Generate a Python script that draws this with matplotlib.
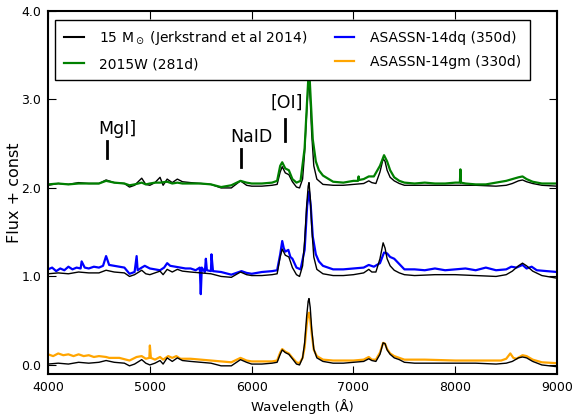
import numpy as np
import matplotlib.pyplot as plt

# vertical offsets ("Flux + const")
off_bottom = 0.0
off_middle = 1.0
off_top = 2.0

# bottom panel: 15 Msun model vs ASASSN-14gm
wl_mod_b = [4000, 4100, 4200, 4300, 4400, 4500, 4570, 4650, 4750, 4800, 4850, 4920, 4960,
            5000, 5050, 5100, 5130, 5170, 5220, 5270, 5320, 5400, 5500, 5600, 5700, 5800,
            5890, 5950, 6000, 6100, 6200, 6250, 6280, 6300, 6330, 6365, 6400, 6440, 6470,
            6500, 6520, 6540, 6555, 6563, 6575, 6590, 6610, 6640, 6700, 6800, 6900, 7000,
            7100, 7150, 7180, 7220, 7260, 7291, 7310, 7330, 7360, 7400, 7450, 7500, 7600,
            7800, 8000, 8200, 8400, 8500, 8560, 8620, 8660, 8700, 8760, 8850, 9000]
fl_mod_b = [0.01, 0.02, 0.01, 0.03, 0.02, 0.03, 0.05, 0.03, 0.02, -0.01, 0.01, 0.06, 0.02,
            0.00, 0.02, 0.05, 0.01, 0.08, 0.04, 0.08, 0.05, 0.04, 0.03, 0.02, -0.01, -0.01,
            0.06, 0.03, 0.01, 0.01, 0.02, 0.03, 0.12, 0.17, 0.14, 0.12, 0.07, 0.01, 0.00,
            0.08, 0.25, 0.55, 0.72, 0.75, 0.65, 0.40, 0.18, 0.08, 0.04, 0.02, 0.02, 0.03,
            0.04, 0.07, 0.05, 0.04, 0.12, 0.25, 0.24, 0.17, 0.12, 0.08, 0.06, 0.03, 0.02,
            0.02, 0.02, 0.02, 0.01, 0.02, 0.04, 0.08, 0.09, 0.08, 0.04, 0.00, -0.02]

wl_14gm = [4000, 4050, 4100, 4150, 4200, 4250, 4300, 4350, 4400, 4450, 4500, 4570, 4600,
           4700, 4800, 4870, 4920, 4960, 4995, 5000, 5010, 5050, 5100, 5130, 5180, 5220,
           5260, 5300, 5400, 5500, 5600, 5700, 5800, 5890, 5950, 6000, 6200, 6250, 6280,
           6300, 6330, 6365, 6400, 6440, 6470, 6500, 6520, 6540, 6555, 6563, 6575, 6590,
           6610, 6640, 6700, 6800, 7000, 7100, 7150, 7180, 7220, 7260, 7291, 7310, 7330,
           7360, 7400, 7450, 7500, 7700, 8000, 8300, 8450, 8500, 8540, 8570, 8600, 8660,
           8700, 8760, 8850, 9000]
fl_14gm = [0.12, 0.10, 0.13, 0.11, 0.12, 0.10, 0.12, 0.10, 0.11, 0.09, 0.10, 0.09, 0.08,
           0.08, 0.05, 0.09, 0.10, 0.07, 0.08, 0.22, 0.08, 0.06, 0.09, 0.06, 0.10, 0.08,
           0.10, 0.07, 0.07, 0.06, 0.05, 0.04, 0.03, 0.08, 0.05, 0.04, 0.04, 0.05, 0.14,
           0.18, 0.15, 0.13, 0.08, 0.03, 0.02, 0.08, 0.20, 0.45, 0.58, 0.59, 0.52, 0.35,
           0.17, 0.10, 0.06, 0.05, 0.05, 0.06, 0.09, 0.06, 0.06, 0.14, 0.25, 0.24, 0.18,
           0.13, 0.10, 0.08, 0.06, 0.06, 0.05, 0.05, 0.05, 0.07, 0.13, 0.08, 0.07, 0.11,
           0.10, 0.06, 0.03, 0.02]

# middle panel: 15 Msun model vs ASASSN-14dq
wl_mod_m = [4000, 4100, 4200, 4300, 4400, 4500, 4570, 4650, 4750, 4800, 4850, 4920, 4960,
            5000, 5050, 5100, 5130, 5170, 5220, 5270, 5320, 5400, 5500, 5600, 5700, 5800,
            5890, 5950, 6000, 6100, 6200, 6250, 6280, 6300, 6330, 6365, 6400, 6440, 6470,
            6500, 6520, 6540, 6555, 6563, 6575, 6590, 6610, 6640, 6700, 6800, 6900, 7000,
            7100, 7150, 7180, 7220, 7260, 7291, 7310, 7330, 7360, 7400, 7450, 7500, 7600,
            7800, 8000, 8200, 8400, 8500, 8560, 8620, 8660, 8700, 8760, 8850, 9000]
fl_mod_m = [0.03, 0.04, 0.03, 0.05, 0.04, 0.04, 0.07, 0.05, 0.04, 0.00, 0.02, 0.07, 0.03,
            0.02, 0.04, 0.06, 0.02, 0.08, 0.05, 0.08, 0.06, 0.05, 0.04, 0.03, 0.00, -0.01,
            0.05, 0.02, 0.01, 0.01, 0.02, 0.03, 0.22, 0.31, 0.24, 0.22, 0.10, 0.02, 0.00,
            0.12, 0.40, 0.80, 1.02, 1.06, 0.90, 0.55, 0.22, 0.08, 0.03, 0.01, 0.01, 0.02,
            0.04, 0.08, 0.05, 0.05, 0.20, 0.38, 0.32, 0.20, 0.12, 0.07, 0.04, 0.02, 0.01,
            0.02, 0.02, 0.01, 0.00, 0.02, 0.06, 0.12, 0.15, 0.12, 0.06, 0.01, -0.02]

wl_14dq = [4000, 4040, 4080, 4120, 4160, 4200, 4240, 4280, 4320, 4330, 4360, 4400, 4450,
           4500, 4540, 4570, 4600, 4650, 4700, 4750, 4800, 4850, 4870, 4880, 4920, 4950,
           5000, 5050, 5100, 5140, 5170, 5200, 5250, 5300, 5350, 5400, 5450, 5490, 5500,
           5510, 5540, 5550, 5560, 5600, 5605, 5620, 5700, 5800, 5900, 5950, 6000, 6100,
           6200, 6250, 6280, 6300, 6315, 6330, 6360, 6380, 6400, 6440, 6480, 6520, 6545,
           6563, 6580, 6600, 6630, 6660, 6700, 6750, 6800, 6900, 7000, 7100, 7150, 7200,
           7260, 7300, 7330, 7360, 7400, 7450, 7500, 7600, 7700, 7800, 7900, 8000, 8100,
           8200, 8300, 8400, 8500, 8550, 8600, 8660, 8700, 8750, 8800, 8900, 9000]
fl_14dq = [0.08, 0.10, 0.06, 0.09, 0.07, 0.11, 0.08, 0.10, 0.09, 0.17, 0.10, 0.09, 0.11,
           0.10, 0.12, 0.23, 0.13, 0.12, 0.11, 0.10, 0.03, 0.05, 0.23, 0.07, 0.10, 0.12,
           0.09, 0.08, 0.07, 0.10, 0.15, 0.12, 0.11, 0.10, 0.09, 0.09, 0.07, 0.10, -0.20,
           0.10, 0.05, 0.20, 0.07, 0.06, 0.25, 0.06, 0.05, 0.02, 0.06, 0.04, 0.03, 0.05,
           0.06, 0.07, 0.25, 0.40, 0.32, 0.28, 0.30, 0.22, 0.20, 0.10, 0.08, 0.30, 0.80,
           0.96, 0.80, 0.45, 0.25, 0.17, 0.12, 0.10, 0.08, 0.08, 0.09, 0.10, 0.13, 0.11,
           0.15, 0.27, 0.26, 0.22, 0.20, 0.14, 0.08, 0.08, 0.07, 0.09, 0.07, 0.08, 0.09,
           0.07, 0.10, 0.07, 0.08, 0.11, 0.10, 0.13, 0.09, 0.11, 0.07, 0.06, 0.05]

# top panel: 15 Msun model vs 2015W
wl_mod_t = [4000, 4100, 4200, 4300, 4400, 4500, 4570, 4650, 4750, 4800, 4850, 4920, 4960,
            5000, 5050, 5100, 5130, 5170, 5220, 5270, 5320, 5400, 5500, 5600, 5700, 5800,
            5890, 5950, 6000, 6100, 6200, 6250, 6280, 6300, 6330, 6365, 6400, 6440, 6470,
            6500, 6520, 6540, 6555, 6563, 6575, 6590, 6610, 6640, 6700, 6800, 6900, 7000,
            7100, 7150, 7180, 7220, 7260, 7291, 7310, 7330, 7360, 7400, 7450, 7500, 7600,
            7800, 8000, 8200, 8400, 8500, 8560, 8620, 8660, 8700, 8760, 8850, 9000]
fl_mod_t = [0.03, 0.05, 0.04, 0.06, 0.05, 0.05, 0.09, 0.06, 0.05, 0.01, 0.03, 0.11, 0.04,
            0.03, 0.06, 0.12, 0.03, 0.10, 0.06, 0.10, 0.07, 0.06, 0.05, 0.04, 0.00, 0.00,
            0.08, 0.03, 0.02, 0.02, 0.03, 0.04, 0.18, 0.24, 0.17, 0.15, 0.07, 0.01, 0.00,
            0.10, 0.40, 0.85, 1.15, 1.20, 1.00, 0.60, 0.25, 0.10, 0.04, 0.03, 0.03, 0.04,
            0.05, 0.08, 0.06, 0.05, 0.18, 0.33, 0.30, 0.20, 0.12, 0.08, 0.05, 0.03, 0.03,
            0.03, 0.03, 0.03, 0.02, 0.03, 0.05, 0.08, 0.09, 0.07, 0.05, 0.03, 0.02]

wl_15w = [4000, 4100, 4200, 4300, 4400, 4500, 4570, 4650, 4750, 4800, 4850, 4920, 4960,
          5000, 5050, 5100, 5170, 5220, 5270, 5320, 5400, 5500, 5600, 5700, 5800, 5890,
          5950, 6000, 6100, 6200, 6250, 6280, 6300, 6330, 6365, 6400, 6440, 6480, 6520,
          6545, 6563, 6580, 6600, 6630, 6660, 6700, 6800, 6900, 7000, 7045, 7050, 7055,
          7100, 7150, 7200, 7260, 7300, 7330, 7360, 7400, 7450, 7500, 7600, 7700, 7800,
          7900, 8000, 8045, 8050, 8055, 8100, 8200, 8300, 8400, 8500, 8560, 8620, 8660,
          8700, 8760, 8850, 9000]
fl_15w = [0.04, 0.05, 0.04, 0.05, 0.05, 0.05, 0.08, 0.06, 0.05, 0.03, 0.04, 0.06, 0.04,
          0.05, 0.06, 0.06, 0.07, 0.05, 0.06, 0.05, 0.05, 0.05, 0.04, 0.01, 0.03, 0.08,
          0.06, 0.05, 0.05, 0.06, 0.08, 0.25, 0.29, 0.22, 0.20, 0.10, 0.06, 0.08, 0.45,
          1.00, 1.38, 1.00, 0.55, 0.30, 0.20, 0.14, 0.07, 0.06, 0.08, 0.08, 0.13, 0.09,
          0.10, 0.13, 0.13, 0.25, 0.37, 0.30, 0.20, 0.12, 0.08, 0.06, 0.05, 0.06, 0.05,
          0.05, 0.06, 0.06, 0.21, 0.06, 0.05, 0.04, 0.04, 0.06, 0.08, 0.10, 0.12, 0.13,
          0.10, 0.07, 0.05, 0.05]

# line identifications: label, tick wavelength, tick bottom/top, label centre, label bottom
line_ids = ['MgI]', 'NaID', '[OI]']
line_wl = [4580, 5895, 6325]
line_lo = [2.34, 2.24, 2.53]
line_hi = [2.53, 2.44, 2.78]
label_wl = [4680, 5995, 6345]
label_y = [2.56, 2.47, 2.86]

fig = plt.figure(figsize=(5.72, 4.2), dpi=100)
ax = fig.add_axes([0.084, 0.11, 0.89, 0.864])

ax.plot(wl_14gm, np.array(fl_14gm) + off_bottom, color='orange', lw=1.6)
ax.plot(wl_mod_b, np.array(fl_mod_b) + off_bottom, color='black', lw=1.0)
ax.plot(wl_14dq, np.array(fl_14dq) + off_middle, color='blue', lw=1.6)
ax.plot(wl_mod_m, np.array(fl_mod_m) + off_middle, color='black', lw=1.0)
ax.plot(wl_mod_t, np.array(fl_mod_t) + off_top, color='black', lw=1.0)
ax.plot(wl_15w, np.array(fl_15w) + off_top, color='green', lw=1.6)

for name, w, lo, hi, tw, ty in zip(line_ids, line_wl, line_lo, line_hi, label_wl, label_y):
    ax.plot([w, w], [lo, hi], color='black', lw=2)
    ax.text(tw, ty, name, fontsize=12.5, ha='center', va='bottom')

h1, = ax.plot([], [], color='black', label=r'15 M$_\odot$ (Jerkstrand et al 2014)')
h2, = ax.plot([], [], color='green', lw=1.6, label='2015W (281d)')
h3, = ax.plot([], [], color='blue', lw=1.6, label='ASASSN-14dq (350d)')
h4, = ax.plot([], [], color='orange', lw=1.6, label='ASASSN-14gm (330d)')
leg = ax.legend(handles=[h1, h2, h3, h4], ncol=2, loc='upper left',
                bbox_to_anchor=(0.014, 0.975), borderaxespad=0, fontsize=10,
                fancybox=False, framealpha=1, edgecolor='black',
                handlelength=1.4, handletextpad=1.1, columnspacing=2.0,
                labelspacing=0.75, borderpad=0.65)
leg.get_frame().set_linewidth(1.0)
leg.set_zorder(10)

ax.set_xlim(4000, 9000)
ax.set_ylim(-0.1, 4.0)
ax.set_xticks([4000, 5000, 6000, 7000, 8000, 9000])
ax.set_yticks([0.0, 1.0, 2.0, 3.0, 4.0])
ax.set_yticklabels(['0.0', '1.0', '2.0', '3.0', '4.0'])
ax.tick_params(direction='in', top=True, right=True, length=6, labelsize=9, pad=5)
for s in ax.spines.values():
    s.set_linewidth(1.5)

ax.set_xlabel('Wavelength (Å)', fontsize=9.5)
ax.set_ylabel('Flux + const', fontsize=11.5)
ax.yaxis.set_label_coords(-0.052, 0.5)

fig.savefig('out.png', dpi=100)
